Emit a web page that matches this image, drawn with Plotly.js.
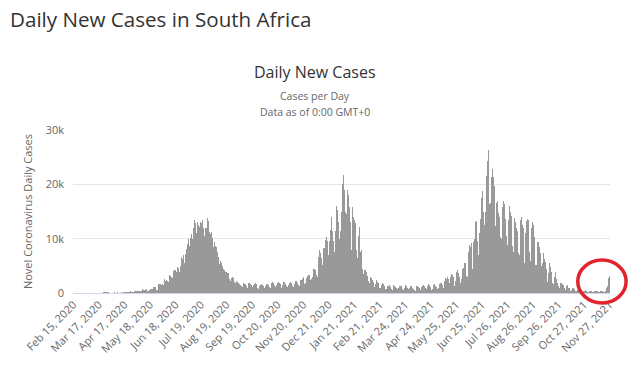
<!DOCTYPE html>
<html>
<head>
<meta charset="utf-8">
<script src="https://cdn.plot.ly/plotly-3.0.1.min.js"></script>
<style>
  html, body { margin: 0; padding: 0; background: #fff; }
  #chart { width: 640px; height: 365px; }
</style>
</head>
<body>
<div id="chart"></div>
<script>
// Daily new cases, South Africa, from Feb 15, 2020 to Nov 27, 2021 (one value per day)
const feb2020 = [0,0,0,0,0,0,0,0,0,0,0,0,0,0,0];
const mar2020 = [0,0,0,0,1,0,1,1,4,0,6,3,7,14,13,11,23,31,34,50,38,34,128,152,155,218,243,17,107,45,73];
const apr2020 = [27,82,112,73,123,69,52,79,96,89,55,25,145,180,0,142,178,251,143,88,186,165,150,318,243,206,174,150,285,354];
const may2020 = [366,385,379,447,304,437,598,424,663,595,482,494,579,698,457,426,608,975,767,665,803,1160,1134,1240,1032,604,621,1673,1837,1716,1727];
const jun2020 = [1500,1650,1500,1700,2500,2300,2400,2200,2000,2400,3300,3100,3000,2700,3300,4000,4300,4200,3800,4800,5100,4600,3800,5000,6600,6200,6300,7000,5500,7200];
const jul2020 = [8100,8700,9100,9900,8700,10200,10800,9000,10000,12000,13400,12900,11000,13600,13000,12600,12100,13100,12400,12800,13400,11900,10400,12000,13200,12000,13800,13300,11200,10900,11000];
const aug2020 = [11200,10100,8500,9300,9000,8700,8400,7500,6700,5400,6600,5900,5500,5000,4400,4200,3000,3900,3800,3600,3600,3100,2500,2300,2800,2900,2700,2600,2100,1800,2200];
const sep2020 = [2000,1900,2100,1700,1500,1200,1100,1500,1800,1700,1600,1200,900,1300,1800,1900,1700,1500,1100,900,1400,1700,1900,1600,1400,1000,800,1200,1500,1700];
const oct2020 = [1600,1500,1200,1000,1300,1700,1900,1700,1500,1100,900,1300,1800,2000,1800,1500,1100,1000,1500,1900,2100,1900,1600,1100,1000,1500,2000,2100,1900,1600,1200];
const nov2020 = [1100,1500,1900,2000,2100,1800,1300,1100,1600,2200,2300,2200,1900,1400,1200,1800,2400,2400,2500,2900,2300,1600,1800,2700,3200,3300,3600,3300,2400,2600];
const dec2020 = [3000,4400,4000,4500,4200,3300,3000,5000,6700,7900,7300,6500,5200,6000,8300,8200,9800,10300,9500,8000,7000,9500,11600,14000,14700,11500,9500,7500,11500,16000,18000];
const jan2021 = [15200,13000,10000,11500,15000,18500,20000,21800,19000,15000,12000,14500,18900,18000,15800,13000,9500,8000,15800,14000,13500,12800,11000,8000,6500,10500,12100,9500,7500,7900,4500];
const feb2021 = [3500,4200,4500,4200,3800,3200,2200,1800,2500,3000,2800,2400,2000,1300,1100,1700,2400,2100,1900,1600,1000,900,1500,1900,1700,1500,1300,800];
const mar2021 = [800,1200,1500,1300,1400,1100,700,600,1200,1400,1300,1100,1000,700,500,1000,1300,1200,1200,1000,800,600,1000,1400,1300,1200,1000,700,900,1300,1200];
const apr2021 = [1100,900,800,600,400,1000,1200,1200,1100,900,600,600,1100,1300,1500,1200,1000,600,700,1300,1600,1500,1300,1100,600,800,1500,1600,1300,1200];
const may2021 = [1100,700,900,1700,2100,1900,1800,1400,900,1300,2300,2800,2600,3000,2500,1200,1800,3000,3500,3400,3000,2500,1300,2300,3800,4300,4000,3600,3000,1800,2500];
const jun2021 = [4500,4800,4600,5500,5600,3200,3000,6600,7600,8800,8400,9200,6300,4500,9400,9900,13000,13200,13400,9500,7000,11000,13600,17500,18000,18800,14900,12500,15000,20000];
const jul2021 = [21500,24300,26400,16300,16600,18800,21300,22900,21300,19700,12300,11200,16600,16900,14800,13900,13500,10300,10000,15900,17000,16400,15200,13600,10500,8800,13500,16000,16700,15000,14200];
const aug2021 = [8700,7600,11000,13800,13100,12000,11500,7400,8100,7000,13500,14000,12600,11900,7800,5500,11000,13200,13700,14500,13500,7600,5900,11900,13000,13400,12600,10300,5100,5200,9400];
const sep2021 = [9900,9400,8400,7400,5000,2900,5600,7300,6200,5700,4500,2800,2000,3600,5500,4700,3900,3400,1800,1700,3000,3900,2800,2500,1900,1200,900,1800,2300,1900];
const oct2021 = [1600,1400,900,500,900,1300,1500,1000,1000,600,400,600,1000,1000,800,800,400,300,500,700,600,600,500,300,200,300,500,400,500,300,250];
const nov2021 = [200,200,300,400,300,250,150,200,300,400,350,300,150,100,200,300,350,300,300,200,100,300,868,1275,2465,2828,3220];

const tickLabels = ["Feb 15, 2020","Mar 17, 2020","Apr 17, 2020","May 18, 2020","Jun 18, 2020","Jul 19, 2020",
  "Aug 19, 2020","Sep 19, 2020","Oct 20, 2020","Nov 20, 2020","Dec 21, 2020","Jan 21, 2021","Feb 21, 2021",
  "Mar 24, 2021","Apr 24, 2021","May 25, 2021","Jun 25, 2021","Jul 26, 2021","Aug 26, 2021","Sep 26, 2021",
  "Oct 27, 2021","Nov 27, 2021"];
const tickEvery = 31;
const yTickVals = [0, 10000, 20000, 30000];
const yTickText = ["0", "10k", "20k", "30k"];

const cases = [].concat(feb2020, mar2020, apr2020, may2020, jun2020, jul2020, aug2020, sep2020, oct2020,
  nov2020, dec2020, jan2021, feb2021, mar2021, apr2021, may2021, jun2021, jul2021, aug2021, sep2021, oct2021, nov2021);
const dayIndex = cases.map((_, i) => i);
const tickVals = tickLabels.map((_, i) => i * tickEvery);

const font = '"Open Sans", "Noto Sans", Arial, sans-serif';

const trace = {
  type: 'bar',
  x: dayIndex,
  y: cases,
  marker: { color: '#999999', line: { width: 0 } },
  hoverinfo: 'skip'
};

const layout = {
  width: 640, height: 365,
  margin: { l: 73, r: 30, t: 130, b: 72 },
  paper_bgcolor: '#ffffff', plot_bgcolor: '#ffffff',
  font: { family: font, color: '#666666', size: 11 },
  showlegend: false,
  bargap: 0,
  title: {
    text: 'Daily New Cases in South Africa',
    font: { family: font, size: 20.6, color: '#333333' },
    x: 10 / 640, xref: 'container', xanchor: 'left',
    y: 1 - 20 / 365, yref: 'container', yanchor: 'middle'
  },
  xaxis: {
    range: [-0.5, cases.length - 0.5],
    tickvals: tickVals, ticktext: tickLabels,
    tickangle: -45,
    ticks: '', showgrid: false, zeroline: false,
    showline: true, linecolor: '#ccd6eb', linewidth: 1,
    tickfont: { family: font, size: 11, color: '#666666' },
    fixedrange: true
  },
  yaxis: {
    range: [0, 30000],
    tickvals: yTickVals, ticktext: yTickText,
    showgrid: true, gridcolor: '#e6e6e6', gridwidth: 1,
    zeroline: false, showline: false, ticks: '',
    ticklabelstandoff: 8,
    tickfont: { family: font, size: 11, color: '#666666' },
    title: { text: 'Novel Coronavirus Daily Cases', font: { family: font, size: 11, color: '#666666' }, standoff: 10 },
    fixedrange: true
  },
  annotations: [
    { text: 'Daily New Cases', xref: 'paper', yref: 'paper', x: 0.4507, y: 1.356, xanchor: 'center', yanchor: 'middle',
      showarrow: false, font: { family: font, size: 16, color: '#333333' } },
    { text: 'Cases per Day', xref: 'paper', yref: 'paper', x: 0.4507, y: 1.208, xanchor: 'center', yanchor: 'middle',
      showarrow: false, font: { family: font, size: 10.5, color: '#666666' } },
    { text: 'Data as of 0:00 GMT+0', xref: 'paper', yref: 'paper', x: 0.4507, y: 1.112, xanchor: 'center', yanchor: 'middle',
      showarrow: false, font: { family: font, size: 10.5, color: '#666666' } }
  ],
  shapes: [
    { type: 'circle', xref: 'paper', yref: 'paper', x0: 0.940, x1: 1.030, y0: -0.061, y1: 0.202,
      line: { color: '#e3232c', width: 3.5 }, fillcolor: 'rgba(0,0,0,0)', layer: 'above' }
  ]
};

Plotly.newPlot('chart', [trace], layout, { displayModeBar: false, staticPlot: true });
</script>
</body>
</html>
